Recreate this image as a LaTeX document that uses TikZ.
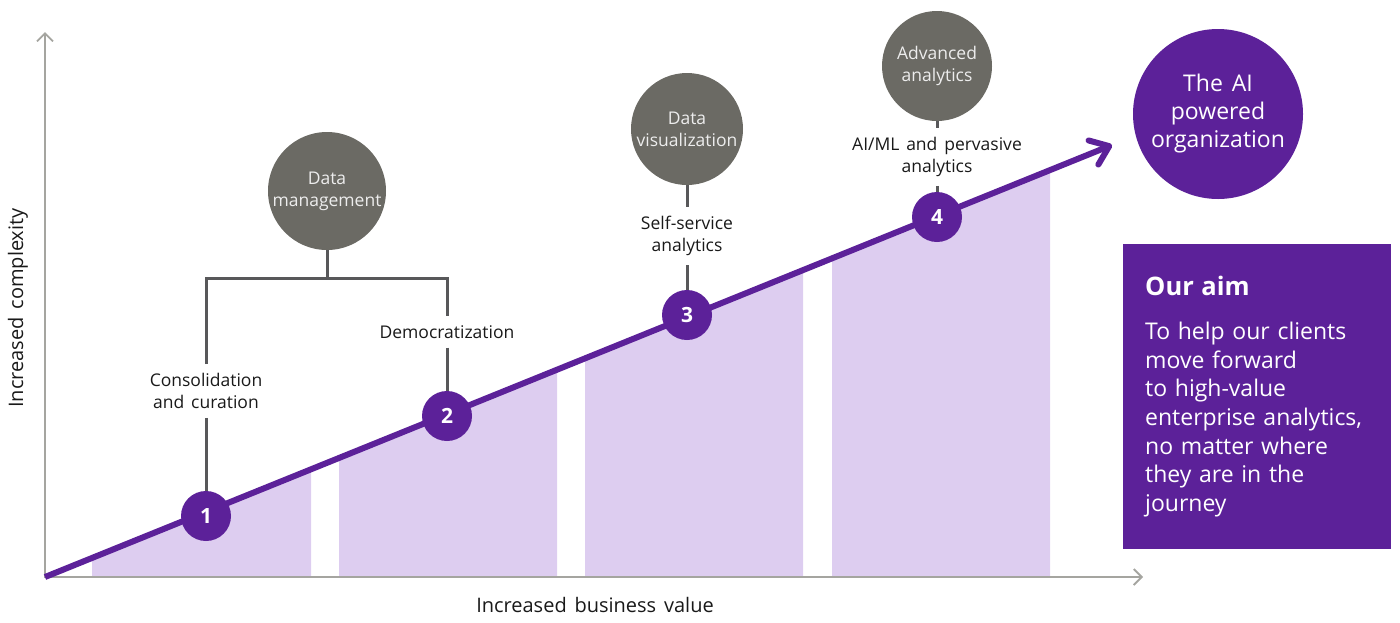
\documentclass[tikz,border=0pt]{standalone}
\usepackage{fontspec}
\setmainfont{Open Sans}[WordSpace=1.5]
\usetikzlibrary{arrows.meta}
\definecolor{purp}{HTML}{5C2199}
\definecolor{lpurp}{HTML}{DDCDF0}
\definecolor{gcircc}{HTML}{6B6A64}
\definecolor{axisc}{HTML}{A5A5A0}
\definecolor{connc}{HTML}{58585A}
\definecolor{gtext}{HTML}{EDEDED}
\begin{document}
\begin{tikzpicture}[x=1pt,y=-1pt,
  axisline/.style={draw=axisc,line width=2.2pt,-{Straight Barb[length=8pt,width=16pt,line width=1.8pt]}},
  trend/.style={draw=purp,line width=6pt,-{Straight Barb[length=17pt,width=26pt,round]}},
  conn/.style={draw=connc,line width=3pt},
  lbl/.style={font=\fontsize{17.5}{22}\selectfont,align=center,inner xsep=2pt,inner ysep=9pt,text=black!90},
  gcirc/.style={circle,fill=gcircc,text=gtext,align=center,inner sep=0pt,font=\fontsize{17.5}{22}\selectfont},
  numc/.style={circle,fill=purp,text=white,minimum size=50pt,inner sep=0pt,font=\fontsize{21}{21}\selectfont\bfseries},
  bigc/.style={circle,fill=purp,text=white,minimum size=170pt,inner sep=0pt,align=center,font=\fontsize{23}{28}\selectfont},
  aimbox/.style={fill=purp,text=white,minimum width=268pt,minimum height=305pt,inner xsep=22pt,align=left,text width=224pt,font=\fontsize{23}{28.7}\selectfont},
  axlbl/.style={font=\fontsize{20}{24}\selectfont,text=black!90}
]
\useasboundingbox (0,0) rectangle (1400,622);
% shaded areas under the trend line
\fill[lpurp] (92,577) -- (92,558) -- (311,469.3) -- (311,577) -- cycle;
\fill[lpurp] (339,577) -- (339,457.9) -- (557,369.6) -- (557,577) -- cycle;
\fill[lpurp] (585,577) -- (585,358.3) -- (803,270) -- (803,577) -- cycle;
\fill[lpurp] (832,577) -- (832,258.3) -- (1050,170) -- (1050,577) -- cycle;
% axes
\coordinate (O) at (45,577);
\coordinate (ytop) at (45,32);
\coordinate (xend) at (1143,577);
\coordinate (tip) at (1112,145);
\draw[axisline] (44,577) -- (xend);
\draw[axisline] (45,578) -- (ytop);
% trend line
\draw[trend] (O) -- (tip);
% axis labels
\node[axlbl] (xl) at (595,605) {Increased business value};
\node[axlbl,rotate=90] (yl) at (18,308) {Increased complexity};
% category circles
\node[gcirc,minimum size=118pt] (dm) at (327,191) {Data\\management};
\node[gcirc,minimum size=112pt] (dv) at (687,129) {Data\\visualization};
\node[gcirc,minimum size=110pt] (aa) at (937,66) {Advanced\\analytics};
% labels
\node[lbl] (cons) at (206,391) {Consolidation\\and curation};
\node[lbl] (demo) at (447,332) {Democratization};
\node[lbl] (ssa) at (687,236) {Self-service\\analytics};
\node[lbl] (aiml) at (937,157) {AI/ML and pervasive\\analytics};
% number circles
\node[numc] (n1) at (206,516) {1};
\node[numc] (n2) at (447,416) {2};
\node[numc] (n3) at (687,315) {3};
\node[numc] (n4) at (937,217) {4};
% connectors
\coordinate (bar) at (327,278);
\draw[conn] (dm.south) -- (bar);
\draw[conn] (cons.north) |- (bar) -| (demo.north);
\draw[conn] (cons.south) -- (n1.north);
\draw[conn] (demo.south) -- (n2.north);
\draw[conn] (dv.south) -- (ssa.north);
\draw[conn] (ssa.south) -- (n3.north);
\draw[conn] (aa.south) -- (aiml.north);
\draw[conn] (aiml.south) -- (n4.north);
% goal
\node[bigc] (ai) at (1218,114) {The AI\\powered\\organization};
\node[aimbox,anchor=north west] (aim) at (1123,244) {{\fontsize{25.5}{28}\selectfont\bfseries Our aim}\\[15pt]
To help our clients\\move forward\\to high-value\\enterprise analytics,\\no matter where\\they are in the\\journey};
\end{tikzpicture}
\end{document}
